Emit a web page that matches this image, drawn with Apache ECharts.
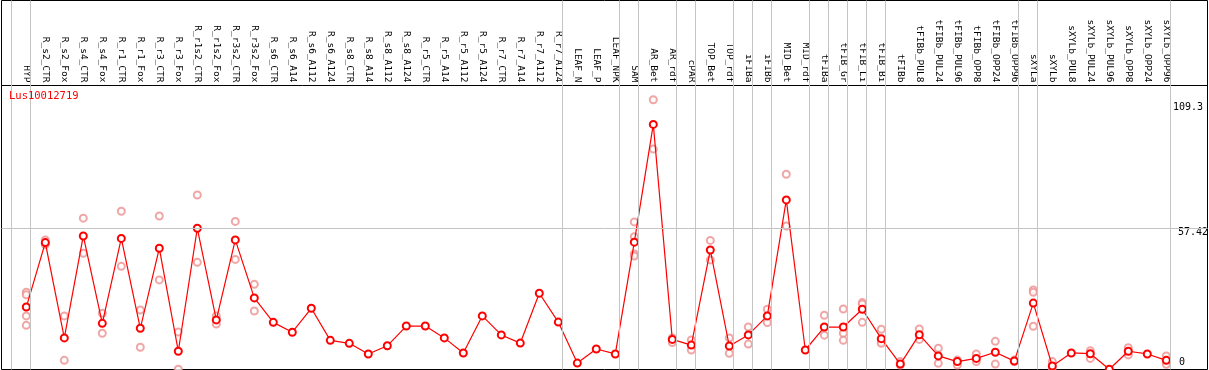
<!DOCTYPE html>
<html>
<head>
<meta charset="utf-8">
<script src="https://cdn.jsdelivr.net/npm/echarts@6/dist/echarts.min.js"></script>
<style>html,body{margin:0;padding:0;background:#fff;}#c{width:1209px;height:370px;}</style>
</head>
<body>
<div id="c"></div>
<script>
const categories = ["HYP","R_s2_CTR","R_s2_Fox","R_s4_CTR","R_s4_Fox","R_r1_CTR","R_r1_Fox","R_r3_CTR","R_r3_Fox","R_r1s2_CTR","R_r1s2_Fox","R_r3s2_CTR","R_r3s2_Fox","R_s6_CTR","R_s6_A14","R_s6_A112","R_s6_A124","R_s8_CTR","R_s8_A14","R_s8_A112","R_s8_A124","R_r5_CTR","R_r5_A14","R_r5_A112","R_r5_A124","R_r7_CTR","R_r7_A14","R_r7_A112","R_r7_A124","LEAF_N","LEAF_P","LEAF_NPK","SAM","AR_Bet","AR_rdf","cPAR","TOP_Bet","TOP_rdf","iFIBa","iFIBb","MID_Bet","MID_rdf","tFIBa","tFIB_Gr","tFIB_Li","tFIB_Bi","tFIBb","tFIBb_PUL8","tFIBb_PUL24","tFIBb_PUL96","tFIBb_OPP8","tFIBb_OPP24","tFIBb_OPP96","sXYLa","sXYLb","sXYLb_PUL8","sXYLb_PUL24","sXYLb_PUL96","sXYLb_OPP8","sXYLb_OPP24","sXYLb_OPP96"];

const means = [25.3,51.4,12.8,54.1,18.7,53.1,16.7,49.1,7.4,57.2,20.1,52.5,29.0,19.1,15.1,24.8,11.8,10.6,6.3,9.6,17.6,17.6,12.8,6.7,21.7,14.0,10.7,30.9,19.2,2.6,8.3,6.3,51.6,99.3,12.2,9.9,48.4,9.5,14.0,21.7,68.7,7.9,17.2,17.2,24.4,12.5,2.2,14.1,5.5,3.2,4.5,7.0,3.4,26.9,1.4,6.7,6.4,0.1,7.4,6.3,3.7];

const replicates = [
  [31.3,30.3,21.7,17.9],[52.5,51.0,50.6],[21.7,3.7],[61.3,47.1],[22.8,14.7],[64.1,41.8],[24.1,9.0],[62.2,36.3],[15.2,0.1],[70.7,43.4],[21.7,18.4],[60.0,44.6],[34.5,23.7],
  [],[],[],[],[],[],[],[],[],[],[],[],[],[],[],[],[],[],[],
  [59.8,53.8,46.8,46.0],[109.3,89.3],[12.8,10.9],[12.0,7.9],[52.3,44.4],[12.8,6.6],[17.2,10.3],[24.4,19.0],[79.1,58.1],[],
  [22.0,13.9],[24.5,14.7,11.8],[27.1,26.5,19.1],[16.3,11.1,10.6],[3.2,1.8],[16.4,12.2],[8.6,2.5],[3.8,1.8],[6.3,3.2],[11.4,2.2],[3.8,3.2],
  [32.2,31.3,17.5],[3.2,0.6],[],[7.6,4.5],[],[8.8,5.9],[],[5.5,2.1]
];

const groupEndsAfter = [-1,0,28,31,32,34,35,37,38,39,41,42,43,44,45,52,53,60];
const yTicks = [0, 57.42, 109.3];
const gridValue = 57.42;
const seriesName = "Lus10012719";

// layout (style, not data)
const W = 1209, H = 370;
const catW = 19, firstX = 26.3, sepOffset = 4 / 19;
const gL = 1.5, gR = 1.5, gT = 0.5, gB = 0.5;
const topValueY = 99.7; // pixel where max tick sits
const xMin = -(firstX - gL) / catW;
const xMax = (W - gR - firstX) / catW;
const zeroY = H - gB;
const yMax = yTicks[2] * (H - gT - gB) / (zeroY - topValueY);
const FONT = 'DejaVu Sans Mono';

const meanData = means.map((v, i) => [i, v]);
const repData = [];
replicates.forEach((arr, i) => arr.forEach(v => repData.push([i, v])));

const chart = echarts.init(document.getElementById('c'), null, {renderer: 'canvas'});
chart.setOption({
  animation: false,
  backgroundColor: '#fff',
  title: {
    text: seriesName, left: 9, top: 91, padding: 0,
    textStyle: {color: '#ff0000', fontSize: 10.5, fontFamily: FONT, fontWeight: 'normal'}
  },
  grid: {left: gL, right: gR, top: gT, bottom: gB, containLabel: false, outerBoundsMode: 'none',
         show: true, borderColor: '#000', borderWidth: 1, backgroundColor: 'transparent'},
  xAxis: {
    type: 'value', min: xMin, max: xMax, position: 'top', offset: -85,
    axisLine: {show: true, onZero: false, lineStyle: {color: '#000', width: 1}},
    axisTick: {show: false},
    splitLine: {show: false},
    axisLabel: {
      customValues: categories.map((c, i) => i),
      formatter: v => categories[Math.round(v)] || '',
      rotate: 90, margin: 3, fontSize: 9.5, fontFamily: FONT, color: '#000'
    }
  },
  yAxis: {
    type: 'value', min: 0, max: yMax, position: 'right',
    axisLine: {show: false}, axisTick: {show: false}, splitLine: {show: false},
    axisLabel: {
      customValues: yTicks, inside: true, align: 'left', margin: 34.5,
      fontSize: 10, fontFamily: FONT, color: '#000',
      formatter: v => {
        if (Math.abs(v - yTicks[0]) < 1e-6) return '{z|' + yTicks[0] + '}';
        if (Math.abs(v - yTicks[2]) < 1e-6) return '{a|' + yTicks[2] + '}';
        return '{b|' + v + '}';
      },
      rich: {
        a: {fontSize: 10, fontFamily: FONT, lineHeight: 11, padding: [16, 0, 0, 0]},
        b: {fontSize: 10, fontFamily: FONT, lineHeight: 11, padding: [9, 0, 0, 5]},
        z: {fontSize: 10, fontFamily: FONT, lineHeight: 11, padding: [0, 0, 15, 6]}
      }
    }
  },
  series: [
    {
      type: 'line', data: [], silent: true, z: 1,
      markLine: {
        silent: true, symbol: 'none', animation: false,
        label: {show: false},
        lineStyle: {color: '#c4c4c4', width: 1, type: 'solid'},
        data: groupEndsAfter.map(i => ({xAxis: i + sepOffset})).concat([{yAxis: gridValue}])
      }
    },
    {
      type: 'scatter', name: 'reps', data: repData, z: 3, clip: false,
      symbol: 'emptyCircle', symbolSize: 7,
      itemStyle: {color: '#ee9090', borderColor: '#ee9090', borderWidth: 1}
    },
    {
      type: 'line', name: seriesName, data: meanData, z: 4, clip: false,
      symbol: 'emptyCircle', symbolSize: 7, showAllSymbol: true,
      lineStyle: {color: '#ff0000', width: 1.2},
      itemStyle: {color: '#ff0000', borderColor: '#ff0000', borderWidth: 1.5}
    }
  ]
});
</script>
</body>
</html>
